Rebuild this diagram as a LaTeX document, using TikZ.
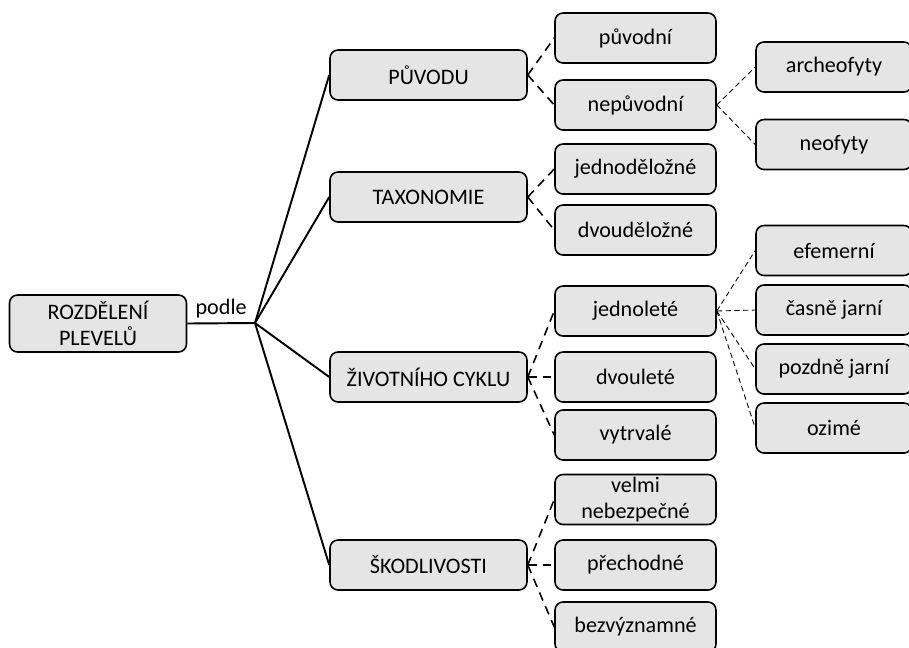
\documentclass[tikz,border=0pt]{standalone}
\usepackage{fontspec}
\setmainfont{Carlito}
\usetikzlibrary{positioning}

\tikzset{
  box/.style={draw=black, line width=0.9pt, fill=gray!20, rounded corners=0.16cm,
    align=center, font=\fontsize{12.6}{14.5}\selectfont, inner sep=1pt},
  rootbox/.style={box, minimum width=3.54cm, minimum height=1.14cm},
  catbox/.style={box, minimum width=3.94cm, minimum height=1cm},
  subbox/.style={box, minimum width=3.22cm, minimum height=1cm},
  leafbox/.style={box, minimum width=3.12cm, minimum height=1cm},
  branch/.style={line width=1.1pt},
  twig/.style={line width=0.9pt, dash pattern=on 5pt off 3.5pt},
  leafline/.style={line width=0.5pt, dash pattern=on 3pt off 2pt}
}

\begin{document}
\begin{tikzpicture}[x=0.02cm, y=-0.02cm]
\useasboundingbox (0,0) rectangle (909,647);

% root and the four criteria
\node[rootbox] (root) at (98,323.5) {ROZDĚLENÍ\\PLEVELŮ};
\coordinate (hub) at (255,323);
\node[catbox] (puvod) at (428.5,75) {PŮVODU};
\node[catbox] (taxon) at (428.5,197) {TAXONOMIE};
\node[catbox] (cyklus) at (428.5,377) {ŽIVOTNÍHO CYKLU};
\node[catbox] (skodl) at (428.5,565) {ŠKODLIVOSTI};

% second level
\node[subbox] (puvodni) at (635.5,38) {původní};
\node[subbox] (nepuvodni) at (635.5,105) {nepůvodní};
\node[subbox] (jedno) at (635.5,169) {jednoděložné};
\node[subbox] (dvou) at (635.5,230) {dvouděložné};
\node[subbox] (jednolete) at (635.5,311) {jednoleté};
\node[subbox] (dvoulete) at (635.5,377) {dvouleté};
\node[subbox] (vytrvale) at (635.5,435) {vytrvalé};
\node[subbox] (velmi) at (635.5,499.5) {velmi\\nebezpečné};
\node[subbox] (prechod) at (635.5,565) {přechodné};
\node[subbox] (bezvyz) at (635.5,627) {bezvýznamné};

% third level
\node[leafbox] (archeo) at (834,67) {archeofyty};
\node[leafbox] (neo) at (834,144.5) {neofyty};
\node[leafbox] (efem) at (834,250.5) {efemerní};
\node[leafbox] (casne) at (834,310) {časně jarní};
\node[leafbox] (pozdne) at (834,369) {pozdně jarní};
\node[leafbox] (ozime) at (834,428) {ozimé};

% solid branches
\draw[branch] (root.east) -- node[above=-1pt, font=\fontsize{12.6}{14.5}\selectfont] {podle} (hub);
\foreach \c in {puvod, taxon, cyklus, skodl}
  \draw[branch] (hub) -- (\c.west);

% dashed links
\foreach \a/\b in {puvod/puvodni, puvod/nepuvodni, taxon/jedno, taxon/dvou,
    cyklus/jednolete, cyklus/dvoulete, cyklus/vytrvale,
    skodl/velmi, skodl/prechod, skodl/bezvyz}
  \draw[twig] (\a.east) -- (\b.west);
\foreach \a/\b in {nepuvodni/archeo, nepuvodni/neo,
    jednolete/efem, jednolete/casne, jednolete/pozdne, jednolete/ozime}
  \draw[leafline] (\a.east) -- (\b.west);
\end{tikzpicture}
\end{document}
